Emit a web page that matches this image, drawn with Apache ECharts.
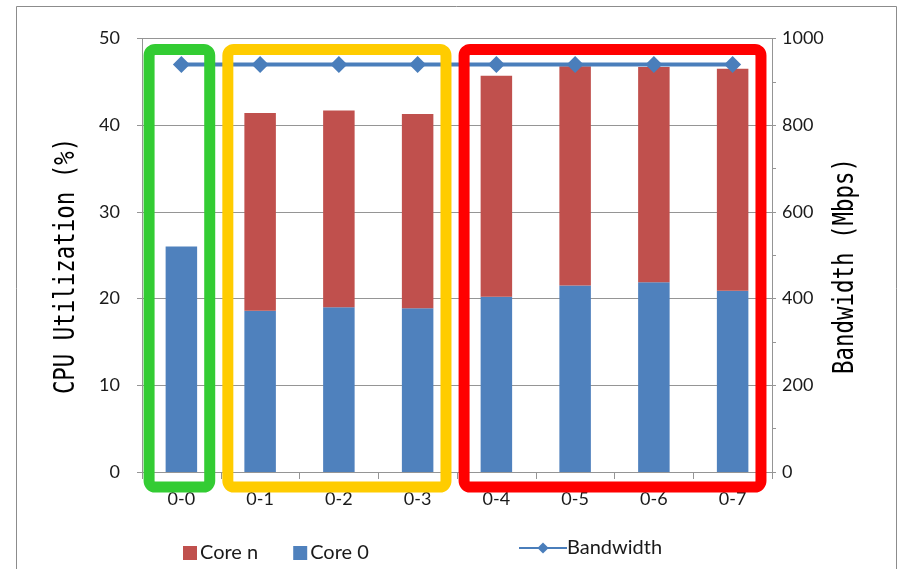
<!DOCTYPE html>
<html>
<head>
<meta charset="utf-8">
<script src="https://cdn.jsdelivr.net/npm/echarts@6/dist/echarts.min.js"></script>
<style>
  html, body { margin: 0; padding: 0; background: #fff; }
  #chart { width: 900px; height: 569px; }
</style>
</head>
<body>
<div id="chart"></div>
<script>
// CPU utilisation per core pairing, with measured network bandwidth
const categories = ['0-0', '0-1', '0-2', '0-3', '0-4', '0-5', '0-6', '0-7'];
const core0 = [26.0, 18.6, 19.0, 18.9, 20.2, 21.5, 21.9, 20.9];
const coreN = [0, 22.8, 22.7, 22.4, 25.5, 25.3, 24.8, 25.6];
const bandwidth = [940, 940, 940, 940, 940, 940, 940, 940];
const cpuTicks = [0, 10, 20, 30, 40, 50];
const bwTicks = [0, 200, 400, 600, 800, 1000];

// Highlighted groups of categories: [first index, last index, colour]
const groups = [
  [0, 0, '#33CC33'],
  [1, 3, '#FFCC00'],
  [4, 7, '#FF0000']
];

const tickFont = 'Lato, "Open Sans", sans-serif';
const titleFont = '"DejaVu Sans Mono", monospace';
const gridColor = '#959595';

const chart = echarts.init(document.getElementById('chart'), null, { renderer: 'canvas' });

const option = {
  animation: false,
  backgroundColor: '#fff',
  grid: { left: 142, right: 128, top: 38.5, bottom: 97, containLabel: false },
  legend: [
    {
      data: ['Core n', 'Core 0'],
      left: 178, top: 538,
      itemWidth: 14, itemHeight: 14, itemGap: 35,
      icon: 'rect',
      textStyle: { fontFamily: tickFont, fontSize: 20, color: '#1a1a1a', padding: [0, 0, 0, -2] }
    },
    {
      data: ['Bandwidth'],
      left: 513, top: 533,
      itemWidth: 48, itemHeight: 14, itemGap: 10,
      textStyle: { fontFamily: tickFont, fontSize: 20, color: '#1a1a1a', padding: [0, 0, 0, -5] }
    }
  ],
  xAxis: {
    type: 'category',
    data: categories,
    axisLine: { lineStyle: { color: gridColor, width: 1 } },
    axisTick: { show: true, alignWithLabel: false, length: 7, lineStyle: { color: gridColor } },
    axisLabel: { fontFamily: tickFont, fontSize: 18, color: '#1a1a1a', margin: 18 }
  },
  yAxis: [
    {
      type: 'value',
      min: cpuTicks[0], max: cpuTicks[cpuTicks.length - 1], interval: 10,
      axisLine: { show: true, lineStyle: { color: gridColor } },
      axisTick: { show: true, length: 5, lineStyle: { color: gridColor } },
      axisLabel: { fontFamily: tickFont, fontSize: 18, color: '#1a1a1a', margin: 22 },
      splitLine: { show: true, lineStyle: { color: gridColor, width: 1 } }
    },
    {
      type: 'value',
      min: bwTicks[0], max: bwTicks[bwTicks.length - 1], interval: 200,
      axisLine: { show: true, lineStyle: { color: gridColor } },
      axisTick: { show: true, length: 4, lineStyle: { color: gridColor } },
      minorTick: { show: true, splitNumber: 2, length: 4, lineStyle: { color: gridColor } },
      axisLabel: {
        fontFamily: tickFont, fontSize: 18, color: '#1a1a1a', margin: 10,
        formatter: (v) => String(v)
      },
      splitLine: { show: false }
    }
  ],
  series: [
    {
      name: 'Core 0', type: 'bar', stack: 'cpu', yAxisIndex: 0,
      data: core0, barWidth: '40%',
      itemStyle: { color: '#4F81BD' }
    },
    {
      name: 'Core n', type: 'bar', stack: 'cpu', yAxisIndex: 0,
      data: coreN, barWidth: '40%',
      itemStyle: { color: '#C0504D' }
    },
    {
      name: 'Bandwidth', type: 'line', yAxisIndex: 1,
      data: bandwidth,
      symbol: 'diamond', symbolSize: 17,
      lineStyle: { color: '#4A7EBB', width: 4 },
      itemStyle: { color: '#4A7EBB' },
      z: 5
    }
  ]
};

chart.setOption(option);

// Annotation frames around each category group, placed from the axis scales
function drawFrames() {
  const xs = categories.map((c, i) => chart.convertToPixel({ xAxisIndex: 0 }, i));
  const band = xs[1] - xs[0];
  const yTop = chart.convertToPixel({ yAxisIndex: 0 }, cpuTicks[cpuTicks.length - 1]);
  const yBot = chart.convertToPixel({ yAxisIndex: 0 }, cpuTicks[0]);
  const elements = [];

  // outer chart border
  elements.push({
    type: 'rect', silent: true, z: 0,
    shape: { x: 16.5, y: 6.5, width: 880, height: 600 },
    style: { fill: null, stroke: '#8c8c8c', lineWidth: 1 }
  });

  groups.forEach(([a, b, color]) => {
    const x0 = xs[a] - band * 0.41;
    const x1 = xs[b] + band * 0.36;
    const y0 = yTop + 11;
    const y1 = yBot + 15;
    elements.push({
      type: 'rect', silent: true, z: 100,
      shape: { x: x0, y: y0, width: x1 - x0, height: y1 - y0, r: 6 },
      style: { fill: null, stroke: color, lineWidth: 11 }
    });
  });

  // rotated axis titles
  elements.push({
    type: 'text', silent: true, z: 10,
    x: 67, y: 266, rotation: Math.PI / 2, scaleX: 0.8,
    style: { text: 'CPU Utilization (%)', font: '28px ' + titleFont, fill: '#000', align: 'center', verticalAlign: 'middle' }
  });
  elements.push({
    type: 'text', silent: true, z: 10,
    x: 846, y: 266, rotation: Math.PI / 2, scaleX: 0.8,
    style: { text: 'Bandwidth (Mbps)', font: '28px ' + titleFont, fill: '#000', align: 'center', verticalAlign: 'middle' }
  });

  chart.setOption({ graphic: { elements: elements } });
}
drawFrames();
</script>
</body>
</html>
